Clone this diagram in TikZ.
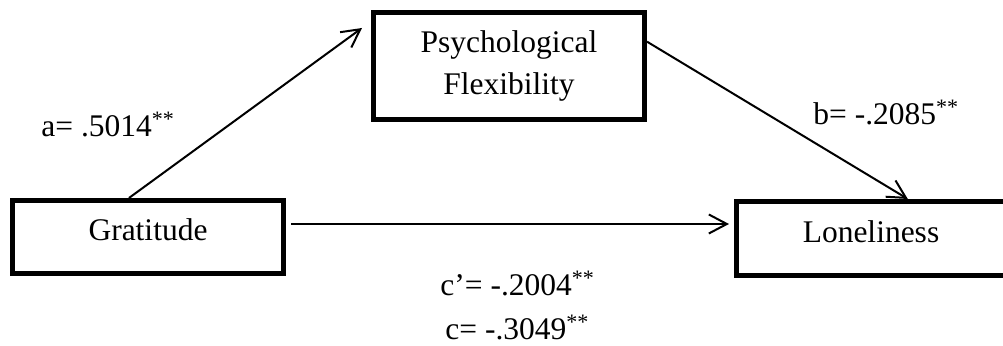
\documentclass[tikz,border=0pt]{standalone}
\usepackage{fontspec}
\setmainfont{Liberation Serif}
\usetikzlibrary{arrows.meta,calc}
\begin{document}
\begin{tikzpicture}[x=0.5pt,y=-0.5pt,
  box/.style={draw, line width=2.5pt, rectangle, inner sep=0pt,
    font=\fontsize{15.75}{21}\selectfont, align=center},
  onebox/.style={box, text height=0.7em, text depth=0.3em},
  lbl/.style={inner sep=0pt, anchor=base west, font=\fontsize{15.75}{21}\selectfont},
  arr/.style={line width=1pt, -{Straight Barb[length=9pt,width=9.5pt]}}]
\clip (0,0) rectangle (1003,346);
\node[box, minimum width=135.5pt, minimum height=53.5pt] (psych) at (509,66) {Psychological\\Flexibility};
\node[onebox, minimum width=135.5pt, minimum height=36.5pt] (grat) at (148,237) {Gratitude};
\node[onebox, minimum width=134.5pt, minimum height=37pt] (lone) at (871,238.5) {Loneliness};
\coordinate (aend) at (362,28);
\draw[arr] (grat.116) -- (aend);
\draw[arr] (psych.10) -- (lone.47);
\draw[arr] ($(grat.east)+(5,-13)$) -- ($(grat.east -| lone.west)+(-5,-13)$);
\node[lbl] (la) at (41,137) {a= .5014\textsuperscript{**}};
\node[lbl] (lb) at (813,125) {b= -.2085\textsuperscript{**}};
\node[lbl] (lc1) at (440,296) {c’= -.2004\textsuperscript{**}};
\node[lbl] (lc2) at (445,340) {c= -.3049\textsuperscript{**}};
\end{tikzpicture}
\end{document}
